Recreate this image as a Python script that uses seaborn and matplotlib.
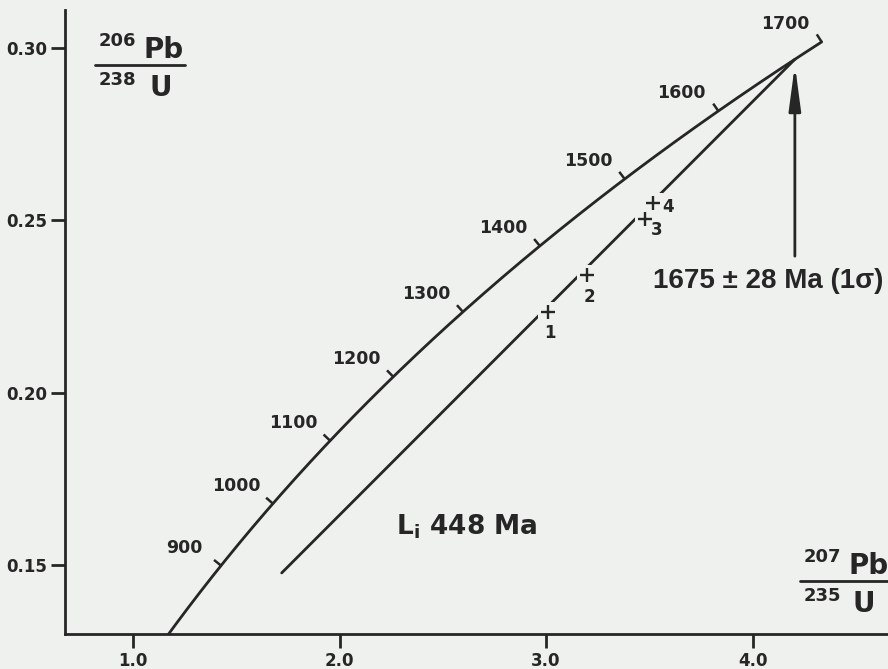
"""
U-Pb concordia diagram with discordia chord (upper intercept 1675 Ma).
"""

import numpy as np
import pandas as pd
import matplotlib; matplotlib.use('Agg')
import matplotlib.pyplot as plt
import seaborn as sns

# decay constants, per Ma
L238 = 1.55125e-4
L235 = 9.8485e-4

AGE_MARKS = [900, 1000, 1100, 1200, 1300, 1400, 1500, 1600, 1700]
CURVE_AGE = [750, 1700]                       # range of the concordia drawn

PT_ID = ['1', '2', '3', '4']
PT_X  = [3.010, 3.199, 3.479, 3.518]          # 207Pb/235U
PT_Y  = [0.2234, 0.2341, 0.2504, 0.2550]      # 206Pb/238U

UPPER_AGE, UPPER_ERR = 1675, 28
LOWER_AGE = 448
CHORD_START = (1.72, 0.1477)                  # lower end of drawn chord

X_TICKS = [1.0, 2.0, 3.0, 4.0]
Y_TICKS = [0.15, 0.20, 0.25, 0.30]

BG, INK = '#eff1ee', '#262626'

sns.set_theme(style='ticks', rc={
    'figure.facecolor': BG, 'axes.facecolor': BG, 'axes.edgecolor': INK,
    'axes.linewidth': 2.0, 'xtick.color': INK, 'ytick.color': INK,
    'text.color': INK, 'font.weight': 'bold',
})
plt.rcParams['font.family'] = ['DejaVu Sans']

def ratios(t):
    t = np.asarray(t, dtype=float)
    return np.exp(L235 * t) - 1, np.exp(L238 * t) - 1

fig = plt.figure(figsize=(8.88, 6.69), dpi=100)
ax = fig.add_axes([65/888, 35/669, 823/888, 624/669])
ax.set_xlim(0.6707, 4.656)
ax.set_ylim(0.12998, 0.31102)

# concordia
t = np.linspace(CURVE_AGE[0], CURVE_AGE[1], 400)
cx, cy = ratios(t)
conc = pd.DataFrame({'x': cx, 'y': cy})
sns.lineplot(data=conc, x='x', y='y', sort=False, color=INK, lw=2.0, ax=ax)

# age ticks, perpendicular to the curve, on its upper-left side
for age in AGE_MARKS:
    p0 = ax.transData.transform(ratios(age))
    p1 = ax.transData.transform(ratios(age + 1))
    d = (p1 - p0) / np.hypot(*(p1 - p0))
    n = np.array([-d[1], d[0]])
    q = ax.transData.inverted().transform(np.vstack([p0, p0 + 9 * n]))
    ax.plot(q[:, 0], q[:, 1], color=INK, lw=1.8, solid_capstyle='butt')
    ax.annotate(str(age), ratios(age), xytext=(-26.5, 13), textcoords='offset points',
                ha='center', va='center', fontsize=12.5, fontweight='bold')

# discordia chord
ux, uy = ratios(UPPER_AGE)
chord = pd.DataFrame({'x': [CHORD_START[0], float(ux)], 'y': [CHORD_START[1], float(uy)]})
sns.lineplot(data=chord, x='x', y='y', sort=False, color=INK, lw=2.0, ax=ax)

# analyses: blank the chord around each cross, then draw the cross
ax.plot(PT_X, PT_Y, ls='none', marker='s', ms=15, mew=0, color=BG, zorder=4)
ax.plot(PT_X, PT_Y, ls='none', marker='+', ms=10, mew=1.7, color=INK, zorder=5)
lab_off = {'1': (1, -15), '2': (2, -16), '3': (8.5, -8), '4': (11, -3)}
for i, x, y in zip(PT_ID, PT_X, PT_Y):
    ax.annotate(i, (x, y), xytext=lab_off[i], textcoords='offset points',
                ha='center', va='center', fontsize=12, fontweight='bold', zorder=6)

# upper intercept arrow and age
ax.annotate('', xy=(ux, uy - 0.0016), xytext=(ux, 0.2396),
            arrowprops=dict(arrowstyle='-|>,head_length=0.9,head_width=0.12',
                            mutation_scale=30, lw=2.0, color=INK,
                            shrinkA=0, shrinkB=0))
ax.text(4.075, 0.2324, f'{UPPER_AGE} ± {UPPER_ERR} Ma (1σ)', ha='center', va='center',
        fontsize=20, fontweight='bold', family=['Liberation Sans', 'DejaVu Sans'])
ax.text(2.617, 0.1612, r'$\mathbf{L_i}$ ' + f'{LOWER_AGE} Ma', ha='center', va='center',
        fontsize=19, fontweight='bold')

# axes
ax.set_xticks(X_TICKS)
ax.set_xticklabels([f'{v:.1f}' for v in X_TICKS])
ax.set_yticks(Y_TICKS)
ax.set_yticklabels([f'{v:.2f}' for v in Y_TICKS])
ax.tick_params(length=10, width=2, pad=3, labelsize=12)
for lbl in ax.get_xticklabels() + ax.get_yticklabels():
    lbl.set_fontweight('bold')
ax.set_xlabel(''); ax.set_ylabel('')
sns.despine(ax=ax)

# isotope-ratio axis titles
def ratio_label(x0, x1, ybar, top_num, bot_num, top_el, bot_el, el_dx):
    fx = lambda px: px / 888
    fy = lambda py: 1 - py / 669
    fig.text(fx(x0 + 22), fy(ybar - 24), top_num, ha='center', va='center', fontsize=13, fontweight='bold')
    fig.text(fx(x0 + 22 + el_dx[0]), fy(ybar - 15), top_el, ha='center', va='center', fontsize=20, fontweight='bold')
    fig.text(fx(x0 + 22), fy(ybar + 15), bot_num, ha='center', va='center', fontsize=13, fontweight='bold')
    fig.text(fx(x0 + 22 + el_dx[1]), fy(ybar + 23), bot_el, ha='center', va='center', fontsize=20, fontweight='bold')
    fig.add_artist(plt.Line2D([fx(x0), fx(x1)], [fy(ybar), fy(ybar)], color=INK, lw=2.0))

ratio_label(95, 185, 65, '206', '238', 'Pb', 'U', (47, 44))
ratio_label(800, 888, 581, '207', '235', 'Pb', 'U', (47, 42))

fig.savefig('out.png', dpi=100, facecolor=BG)
